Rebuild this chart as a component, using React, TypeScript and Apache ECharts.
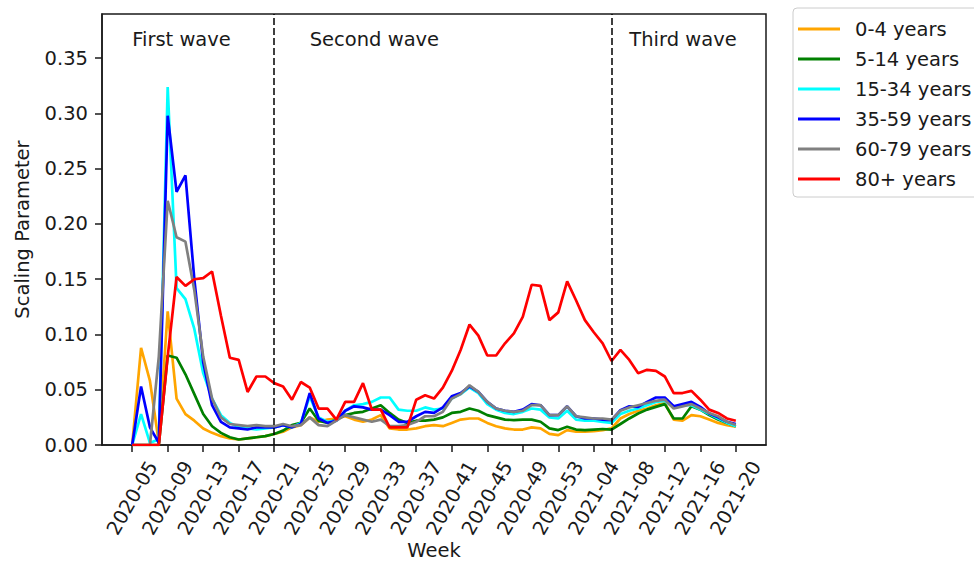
import React, { useEffect, useRef } from 'react';
import * as echarts from 'echarts';

const weeks = [
  '2020-05','2020-06','2020-07','2020-08','2020-09','2020-10','2020-11','2020-12','2020-13','2020-14',
  '2020-15','2020-16','2020-17','2020-18','2020-19','2020-20','2020-21','2020-22','2020-23','2020-24',
  '2020-25','2020-26','2020-27','2020-28','2020-29','2020-30','2020-31','2020-32','2020-33','2020-34',
  '2020-35','2020-36','2020-37','2020-38','2020-39','2020-40','2020-41','2020-42','2020-43','2020-44',
  '2020-45','2020-46','2020-47','2020-48','2020-49','2020-50','2020-51','2020-52','2020-53','2021-01',
  '2021-02','2021-03','2021-04','2021-05','2021-06','2021-07','2021-08','2021-09','2021-10','2021-11',
  '2021-12','2021-13','2021-14','2021-15','2021-16','2021-17','2021-18','2021-19','2021-20',
];

const xTickIdx = [0, 4, 8, 12, 16, 20, 24, 28, 32, 36, 40, 44, 48, 52, 56, 60, 64, 68];
const yTicks = [0, 0.05, 0.1, 0.15, 0.2, 0.25, 0.3, 0.35];

const age0_4 = [
  0, 0.088, 0.058, 0.002, 0.121, 0.042, 0.028, 0.022, 0.015, 0.011,
  0.008, 0.006, 0.005, 0.006, 0.007, 0.008, 0.010, 0.012, 0.016, 0.018,
  0.025, 0.021, 0.023, 0.024, 0.026, 0.023, 0.021, 0.023, 0.027, 0.015,
  0.014, 0.014, 0.015, 0.017, 0.018, 0.017, 0.020, 0.023, 0.024, 0.024,
  0.020, 0.017, 0.015, 0.014, 0.014, 0.016, 0.015, 0.010, 0.009, 0.0135,
  0.012, 0.012, 0.0125, 0.0135, 0.015, 0.024, 0.028, 0.031, 0.033, 0.036,
  0.038, 0.023, 0.022, 0.027, 0.026, 0.023, 0.020, 0.018, 0.0165,
];
const age5_14 = [
  0, 0, 0, 0, 0.081, 0.079, 0.064, 0.046, 0.028, 0.017,
  0.011, 0.007, 0.005, 0.006, 0.007, 0.008, 0.010, 0.013, 0.018, 0.020,
  0.033, 0.022, 0.020, 0.023, 0.027, 0.029, 0.030, 0.033, 0.036, 0.029,
  0.023, 0.020, 0.022, 0.022, 0.023, 0.025, 0.029, 0.030, 0.033, 0.031,
  0.027, 0.025, 0.023, 0.0225, 0.023, 0.023, 0.021, 0.015, 0.0135, 0.0165,
  0.014, 0.0135, 0.014, 0.0145, 0.014, 0.019, 0.024, 0.0285, 0.032, 0.0345,
  0.037, 0.024, 0.024, 0.035, 0.032, 0.027, 0.023, 0.020, 0.017,
];
const age15_34 = [
  0, 0.028, 0.002, 0.005, 0.324, 0.142, 0.132, 0.105, 0.065, 0.042,
  0.027, 0.020, 0.016, 0.015, 0.014, 0.015, 0.016, 0.018, 0.016, 0.020,
  0.044, 0.025, 0.021, 0.022, 0.031, 0.036, 0.037, 0.039, 0.043, 0.043,
  0.032, 0.031, 0.031, 0.034, 0.032, 0.033, 0.042, 0.046, 0.052, 0.047,
  0.037, 0.032, 0.029, 0.028, 0.030, 0.033, 0.032, 0.025, 0.024, 0.031,
  0.023, 0.022, 0.022, 0.021, 0.020, 0.028, 0.031, 0.033, 0.036, 0.039,
  0.040, 0.034, 0.036, 0.036, 0.032, 0.028, 0.024, 0.020, 0.017,
];
const age35_59 = [
  0, 0.053, 0.016, 0.002, 0.298, 0.229, 0.244, 0.150, 0.075, 0.036,
  0.021, 0.016, 0.015, 0.014, 0.016, 0.016, 0.016, 0.018, 0.016, 0.019,
  0.047, 0.024, 0.020, 0.022, 0.031, 0.035, 0.034, 0.032, 0.032, 0.027,
  0.021, 0.021, 0.026, 0.030, 0.029, 0.034, 0.044, 0.047, 0.053, 0.048,
  0.039, 0.033, 0.031, 0.030, 0.032, 0.037, 0.036, 0.027, 0.027, 0.035,
  0.026, 0.024, 0.024, 0.023, 0.0225, 0.0315, 0.035, 0.0345, 0.039, 0.043,
  0.043, 0.035, 0.037, 0.039, 0.0345, 0.0285, 0.025, 0.021, 0.019,
];
const age60_79 = [
  0, 0, 0, 0.08, 0.221, 0.188, 0.184, 0.140, 0.080, 0.042,
  0.025, 0.019, 0.018, 0.017, 0.018, 0.017, 0.017, 0.019, 0.017, 0.018,
  0.025, 0.018, 0.017, 0.022, 0.027, 0.025, 0.023, 0.021, 0.023, 0.017,
  0.017, 0.018, 0.021, 0.026, 0.026, 0.030, 0.042, 0.046, 0.054, 0.048,
  0.039, 0.033, 0.031, 0.030, 0.031, 0.036, 0.036, 0.027, 0.027, 0.035,
  0.026, 0.025, 0.024, 0.024, 0.023, 0.031, 0.034, 0.036, 0.038, 0.040,
  0.041, 0.033, 0.035, 0.037, 0.033, 0.029, 0.026, 0.021, 0.018,
];
const age80plus = [
  0, 0, 0, 0, 0.080, 0.152, 0.144, 0.150, 0.151, 0.157,
  0.117, 0.079, 0.077, 0.048, 0.062, 0.062, 0.056, 0.053, 0.041, 0.057,
  0.052, 0.033, 0.033, 0.023, 0.039, 0.039, 0.056, 0.032, 0.032, 0.016,
  0.016, 0.016, 0.041, 0.045, 0.042, 0.052, 0.067, 0.086, 0.109, 0.099,
  0.081, 0.081, 0.092, 0.101, 0.116, 0.145, 0.144, 0.113, 0.120, 0.148,
  0.131, 0.113, 0.102, 0.092, 0.076, 0.086, 0.077, 0.065, 0.068, 0.067,
  0.062, 0.047, 0.047, 0.049, 0.041, 0.032, 0.029, 0.024, 0.022,
];

const seriesNames = ['0-4 years', '5-14 years', '15-34 years', '35-59 years', '60-79 years', '80+ years'];
const seriesValues = [age0_4, age5_14, age15_34, age35_59, age60_79, age80plus];
const seriesColors = ['#FFA500', '#008000', '#00FFFF', '#0000FF', '#808080', '#FF0000'];

// wave boundaries (week index) and wave annotations
const waveBoundaries = [16, 54];
const waveNames = ['First wave', 'Second wave', 'Third wave'];
const waveNameX = [0, 20, 56];
const waveNameY = 0.367;

const FONT = 'DejaVu Sans';
const FS = 19.5;
const TXT = '#1a1a1a';

export default function App() {
  const ref = useRef<HTMLDivElement>(null);
  useEffect(() => {
    if (!ref.current) return;
    const chart = echarts.init(ref.current, undefined, { renderer: 'svg' });
    const lineSeries = seriesNames.map((name, k) => ({
      name,
      type: 'line',
      data: seriesValues[k].map((v, i) => [i, v]),
      symbol: 'none',
      showSymbol: false,
      lineStyle: { width: 2.7, color: seriesColors[k] },
      itemStyle: { color: seriesColors[k] },
      emphasis: { disabled: true },
      silent: true,
    }));
    const option: any = {
      animation: false,
      textStyle: { fontFamily: FONT },
      grid: {
        left: 102, right: 208, top: 14, bottom: 118,
        show: true, borderColor: TXT, borderWidth: 1.5,
        containLabel: false, outerBoundsMode: 'none',
      },
      legend: {
        data: seriesNames,
        orient: 'vertical',
        left: 793, top: 8,
        padding: [11, 12, 8, 5],
        itemWidth: 42, itemHeight: 3, itemGap: 10,
        icon: 'rect',
        borderColor: '#cccccc', borderWidth: 1, borderRadius: 4,
        backgroundColor: '#ffffff',
        selectedMode: false,
        textStyle: { fontSize: FS, color: TXT, fontFamily: FONT, lineHeight: 20, padding: [0, 0, 0, 10] },
      },
      xAxis: {
        type: 'value',
        min: -3.4, max: 71.4,
        name: 'Week', nameLocation: 'middle', nameGap: 95, nameMoveOverlap: false,
        nameTextStyle: { fontSize: FS, lineHeight: 20, color: TXT, fontFamily: FONT },
        axisLine: { show: true, onZero: false, lineStyle: { color: TXT, width: 1.5 } },
        axisTick: { show: true, length: 7, inside: false, customValues: xTickIdx, lineStyle: { color: TXT, width: 1.5 } },
        axisLabel: {
          customValues: xTickIdx,
          formatter: (v: number) => weeks[Math.round(v)] ?? '',
          rotate: 60, align: 'center', verticalAlign: 'middle', margin: 53,
          fontSize: FS, color: TXT, fontFamily: FONT,
        },
        splitLine: { show: false },
      },
      yAxis: {
        type: 'value',
        min: 0, max: 0.39,
        name: 'Scaling Parameter', nameLocation: 'middle', nameGap: 70, nameMoveOverlap: false,
        nameTextStyle: { fontSize: FS, color: TXT, fontFamily: FONT },
        axisLine: { show: true, onZero: false, lineStyle: { color: TXT, width: 1.5 } },
        axisTick: { show: true, length: 7, inside: false, customValues: yTicks, lineStyle: { color: TXT, width: 1.5 } },
        axisLabel: {
          customValues: yTicks,
          formatter: (v: number) => v.toFixed(2),
          margin: 14, fontSize: FS, color: TXT, fontFamily: FONT,
        },
        splitLine: { show: false },
      },
      series: [
        ...lineSeries,
        {
          name: 'waves',
          type: 'scatter',
          symbolSize: 0,
          silent: true,
          itemStyle: { opacity: 1 },
          data: waveNames.map((t, k) => [waveNameX[k], waveNameY, t]),
          label: {
            show: true,
            position: 'right',
            distance: 0,
            opacity: 1,
            formatter: (p: any) => p.data[2],
            fontSize: FS, color: TXT, fontFamily: FONT,
          },
          markLine: {
            silent: true,
            symbol: ['none', 'none'],
            label: { show: false },
            lineStyle: { color: '#000', type: [7, 3], width: 1.5, opacity: 1 },
            data: waveBoundaries.map((x) => ({ xAxis: x })),
          },
        },
      ],
    };
    chart.setOption(option);
    return () => chart.dispose();
  }, []);
  return (
    <div
      ref={ref}
      style={{ position: 'fixed', left: 0, top: 0, width: 974, height: 563, background: '#fff' }}
    />
  );
}
